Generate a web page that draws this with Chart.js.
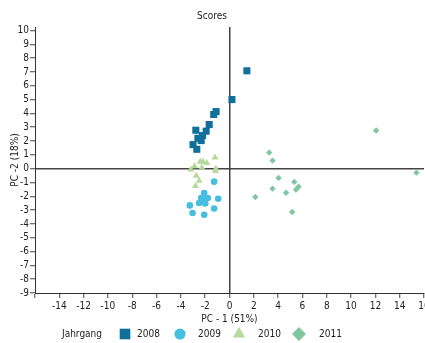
<!DOCTYPE html>
<html>
<head>
<meta charset="utf-8">
<title>Scores</title>
<script src="https://cdn.jsdelivr.net/npm/chart.js@4.4.1/dist/chart.umd.min.js"></script>
<style>
  body { margin: 0; overflow: hidden; background: #fff; }
  #wrap { width: 425px; height: 343px; overflow: hidden; }
</style>
</head>
<body>
<div id="wrap">
  <canvas id="scores" width="440" height="343" style="width:440px;height:343px"></canvas>
</div>
<script>
// years (Jahrgang)
var years = ['2008', '2009', '2010', '2011'];

// PC-1 / PC-2 scores per year
var x2008 = [1.43, 0.2, -1.1, -1.3, -1.67, -1.92, -2.77, -2.22, -2.6, -2.33, -3.0, -2.69];
var y2008 = [7.08, 5.0, 4.13, 3.92, 3.19, 2.71, 2.78, 2.39, 2.2, 2.03, 1.74, 1.4];

var x2009 = [-1.26, -2.08, -2.33, -1.78, -0.93, -2.5, -2.0, -3.26, -1.26, -3.04, -2.08, -2.2];
var y2009 = [-0.94, -1.76, -2.12, -2.12, -2.18, -2.49, -2.52, -2.66, -2.88, -3.21, -3.34, -2.2];

var x2010 = [-1.2, -2.19, -2.41, -1.86, -2.88, -2.27, -3.18, -1.12, -1.15, -2.74, -2.5, -2.8];
var y2010 = [0.8, 0.51, 0.49, 0.41, 0.17, 0.09, -0.07, 0.0, -0.17, -0.51, -0.87, -1.25];

var x2011 = [3.27, 3.54, 12.06, 15.38, 4.04, 5.33, 3.54, 4.65, 5.68, 5.47, 2.12, 5.16];
var y2011 = [1.16, 0.58, 2.76, -0.29, -0.67, -0.96, -1.45, -1.74, -1.31, -1.52, -2.05, -3.14];

var FONT = "'Liberation Sans Narrow', 'DejaVu Sans Condensed', 'Roboto', sans-serif";

function pts(xs, ys) {
  var out = [];
  for (var i = 0; i < xs.length; i++) out.push({x: xs[i], y: ys[i]});
  return out;
}

// legend along the bottom: "Jahrgang" then one marker + label per year
var bottomLegend = {
  id: 'bottomLegend',
  afterDraw: function(chart) {
    var ctx = chart.ctx;
    var y = 334;
    var markX = [125, 180, 239, 299];
    var textX = [137, 198, 258, 319];
    var sizes = [7.5, 5.6, 7, 7];
    ctx.save();
    ctx.font = '10px ' + FONT;
    ctx.fillStyle = '#222';
    ctx.textBaseline = 'middle';
    ctx.textAlign = 'left';
    ctx.fillText('Jahrgang', 62, y);
    chart.data.datasets.forEach(function(ds, i) {
      ctx.fillStyle = ds.backgroundColor;
      ctx.strokeStyle = ds.backgroundColor;
      Chart.helpers.drawPoint(ctx, {pointStyle: ds.pointStyle, radius: sizes[i], rotation: 0, borderWidth: 0}, markX[i], y);
      ctx.fillStyle = '#222';
      ctx.fillText(ds.label, textX[i], y);
    });
    ctx.restore();
  }
};

var ctx = document.getElementById('scores').getContext('2d');
var chart = new Chart(ctx, {
  type: 'scatter',
  data: {
    datasets: [{
      label: years[0], data: pts(x2008, y2008),
      pointStyle: 'rect', pointRadius: 5, backgroundColor: '#10709a', borderWidth: 0
    }, {
      label: years[1], data: pts(x2009, y2009),
      pointStyle: 'circle', pointRadius: 3.3, backgroundColor: '#45bedf', borderWidth: 0
    }, {
      label: years[2], data: pts(x2010, y2010),
      pointStyle: 'triangle', pointRadius: 4, backgroundColor: '#b5d89b', borderWidth: 0
    }, {
      label: years[3], data: pts(x2011, y2011),
      pointStyle: 'rectRot', pointRadius: 3.2, backgroundColor: '#80c79f', borderWidth: 0
    }]
  },
  options: {
    responsive: false,
    animation: false,
    layout: { padding: { left: 0, right: 16, top: 0, bottom: 17.5 } },
    plugins: {
      legend: { display: false },
      tooltip: { enabled: false },
      title: {
        display: true, text: 'Scores', color: '#222',
        font: { family: FONT, size: 10, weight: 'normal' },
        padding: { top: 10, bottom: 5 }
      }
    },
    scales: {
      x: {
        type: 'linear', min: -16, max: 16,
        afterFit: function(s) { s.height = 32.5; },
        border: { color: '#333', width: 1 },
        grid: {
          drawOnChartArea: true,
          color: function(c) { return c.tick && c.tick.value === 0 ? '#444' : 'rgba(0,0,0,0)'; },
          lineWidth: 1.5,
          tickColor: '#444', tickWidth: 1, tickLength: 5
        },
        ticks: { stepSize: 2, color: '#222', padding: 2, maxRotation: 0, autoSkip: false,
                 font: { family: FONT, size: 10 },
                 callback: function(v) { return v === -16 ? '' : v; } },
        title: { display: true, text: 'PC - 1 (51%)', color: '#222',
                 font: { family: FONT, size: 10 }, padding: { top: 0, bottom: 0 } }
      },
      y: {
        type: 'linear', min: -9, max: 10.25,
        afterFit: function(s) { s.width = 35; },
        border: { color: '#333', width: 1 },
        grid: {
          drawOnChartArea: true,
          color: function(c) { return c.tick && c.tick.value === 0 ? '#444' : 'rgba(0,0,0,0)'; },
          lineWidth: 1.5,
          tickColor: '#444', tickWidth: 1, tickLength: 5
        },
        ticks: { stepSize: 1, includeBounds: false, color: '#222', padding: 1, autoSkip: false,
                 font: { family: FONT, size: 10 } },
        title: { display: true, text: 'PC -2 (18%)', color: '#222',
                 font: { family: FONT, size: 10 }, padding: { top: 9, bottom: 0 } }
      }
    }
  },
  plugins: [bottomLegend]
});
</script>
</body>
</html>
